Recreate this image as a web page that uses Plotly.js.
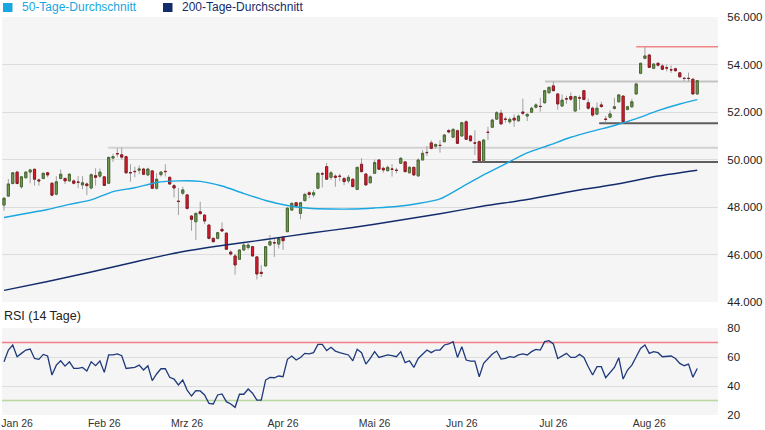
<!DOCTYPE html>
<html><head><meta charset="utf-8">
<script src="https://cdn.plot.ly/plotly-3.0.1.min.js"></script>
<style>html,body{margin:0;padding:0;background:#fff}#chart{width:765px;height:430px}</style>
</head><body><div id="chart"></div>
<script>
// ---- data (trading days, index 0 = first candle) ----
const tickDay  = [3, 23, 42, 64, 85, 105, 126, 148];
const tickText = ['Jan 26','Feb 26','Mrz 26','Apr 26','Mai 26','Jun 26','Jul 26','Aug 26'];

const open = [48080,48460,48990,49470,48850,49230,49470,49590,49140,49200,
49440,49000,48540,49200,49200,49100,49100,49050,48930,48970,
48800,49320,49300,49270,49000,50060,50250,50200,50120,49450,
49500,49550,49600,49350,49520,48790,49360,49500,49250,48900,
48250,48580,48510,47620,47380,47800,47660,47240,46680,46680,
47060,46900,46100,45940,45800,46190,46290,46330,45900,45250,
45520,46400,46500,46440,46730,46960,47870,48180,47730,48270,
48600,48510,48790,49400,49700,49250,49300,49300,49200,49100,
49170,48740,49800,49390,49020,49420,49980,49630,49530,49600,
49550,49840,49900,49440,49670,49310,49980,50300,50700,50560,
50600,50750,51220,50940,51210,50990,51590,50990,50700,50750,
49950,51150,51360,51700,51950,51700,51590,51740,51630,52000,
51830,51990,52200,52240,52390,52810,53100,52760,52250,52560,
52650,52040,52600,52900,52390,52160,51910,52300,51700,51780,
52150,52430,52670,52110,52220,52760,53630,54260,54400,53840,
54050,53940,53860,53780,53820,53650,53420,53420,53380,52760];

const high = [48410,49180,49470,49520,49310,49500,49610,49600,49200,49450,
49480,49050,49300,49580,49250,49420,49160,49300,49300,49030,
49420,49630,49620,49300,50120,50240,50470,50500,50160,49800,
49700,49750,49650,49650,49540,49420,49510,49800,49280,48970,
48800,48850,48550,47660,47770,48220,47700,47280,46720,46950,
47350,46930,46170,46030,46210,46500,46480,46360,45940,45550,
46360,46820,46720,46720,46780,48000,48210,48210,48210,48600,
48670,48710,49450,49480,49850,49520,49380,49400,49270,49350,
49210,49700,50050,49410,49330,50000,50010,49700,49750,49810,
49650,50100,49930,49720,49700,50050,50400,50560,50810,50680,
50820,51070,51290,51310,51260,51590,51650,51030,51230,50800,
50850,51380,51720,52040,52100,51800,51780,51900,51900,52560,
51950,52220,52370,52600,52930,53060,53280,52790,52740,52680,
52820,52680,52700,52930,52560,52230,52400,52430,51830,52070,
52600,52760,52700,52260,52560,53240,54080,54750,54430,54060,
54100,54030,54000,53960,53870,53690,53480,53660,53420,53350];

const low = [47845,48420,48950,48950,48770,49200,49000,48900,48900,49170,
49250,48450,48490,49160,48970,49070,48950,48800,48750,48500,
48750,48900,49230,48880,48960,49900,50100,50000,49400,49070,
49250,49380,49340,49300,48750,48730,49280,49280,48930,48400,
47660,48500,47900,47000,46610,47680,47280,46640,46500,46640,
46960,46200,45950,45150,45780,46170,46200,45900,44950,45050,
45480,46350,45900,46250,46190,46960,47850,47950,47480,48230,
48370,48400,48750,48820,49140,49140,48850,49080,48920,49000,
48830,48710,49450,48890,49000,49400,49560,49450,49500,49280,
49420,49820,49450,49420,49300,49260,49960,50140,50430,50450,
50290,50720,51100,50900,50650,50960,50820,50750,50190,49910,
49910,50820,51330,51680,51460,51550,51500,51380,51590,51860,
51620,51950,52150,52010,52350,52780,52860,52100,52230,52340,
52470,52020,52090,52490,52100,51800,51870,52170,51550,51730,
52100,52390,51520,52070,52170,52720,53590,54220,53850,53800,
53910,53760,53710,53650,53690,53460,53300,53280,52720,52720];

const close = [48370,48970,49440,48990,49270,49470,49560,49170,49100,49420,
49350,48500,49060,49380,49100,49380,49000,49040,49020,48900,
49360,49250,49470,48910,50090,50120,50240,50100,49440,49440,
49490,49600,49380,49600,48790,49170,49470,49490,48970,48800,
48230,48720,47940,47480,47730,47720,47410,46680,46540,46920,
46990,46220,46020,45560,46190,46400,46400,45940,45180,45200,
46330,46540,46490,46680,46580,47950,48150,48040,48180,48530,
48530,48600,49420,49390,49170,49440,49250,49290,49070,49250,
48860,49670,49490,48930,49270,49870,49590,49560,49670,49590,
49540,50050,49490,49670,49350,49980,50260,50290,50470,50630,
50590,51030,51160,51270,50680,51550,50850,50790,50690,49950,
50820,51140,51660,51970,51500,51690,51690,51660,51830,51950,
51900,52160,52300,52230,52900,53040,52900,52340,52500,52550,
52540,52650,52590,52530,52160,51870,52160,52230,51690,51920,
52220,52720,51590,52220,52430,53180,54050,54360,53880,54020,
53970,53800,53850,53770,53740,53480,53410,53410,52760,53320];

const ma50Day = [0,5,10,15,20,25,30,35,40,45,50,55,60,65,70,75,80,85,90,95,100,105,110,115,120,125,130,135,140,145,150,155,159];
const ma50 = [47560,47725,47895,48110,48300,48650,48810,49030,49100,49080,48885,48570,48275,48065,47945,47915,47915,47960,48020,48145,48340,48840,49350,49815,50275,50600,50935,51195,51430,51720,52055,52335,52520];

const ma200Day = [0,10,20,30,40,50,60,70,80,90,100,110,120,130,140,150,159];
const ma200 = [44490,44865,45265,45685,46085,46380,46630,46895,47135,47420,47715,48040,48315,48655,48945,49305,49550];

const rsi = [56.7,64.8,68.3,60.2,62.5,64.8,65.5,59.0,58.4,61.8,
60.7,47.6,54.4,57.4,53.7,56.7,52.1,52.1,52.8,50.3,
56.7,54.0,57.2,49.4,61.4,61.4,62.1,60.9,52.1,52.3,
52.8,54.4,51.0,54.0,43.7,48.3,51.9,51.9,46.0,44.8,
40.7,44.1,37.2,33.1,36.8,36.6,33.8,28.0,27.6,33.8,
34.5,29.2,27.6,25.3,34.3,34.3,37.9,35.0,30.3,30.3,
44.1,45.9,45.7,46.9,46.4,58.4,60.7,57.9,59.7,62.5,
62.1,63.0,68.7,68.7,64.4,66.7,64.1,63.0,62.1,61.4,
57.4,65.3,63.0,55.1,59.0,63.7,59.7,60.7,61.4,61.0,
60.2,63.7,56.1,57.4,52.8,59.0,61.8,64.8,63.0,64.8,
64.8,68.3,69.0,70.6,59.7,67.1,57.9,57.2,57.2,46.4,
55.6,59.0,62.1,64.1,58.6,59.0,60.2,59.7,61.4,62.1,
61.4,63.7,65.3,64.8,70.6,71.3,69.0,59.0,60.7,62.5,
59.7,59.7,61.8,59.7,53.3,47.6,53.3,53.3,45.7,49.2,
52.8,59.5,44.8,51.0,54.4,60.2,65.9,68.3,62.5,63.7,
63.0,60.2,60.7,60.7,59.0,55.6,54.0,55.1,46.0,52.1];

// horizontal price levels (support / resistance) and the day they start
const levelPrice = [50490, 49900, 53280, 51530, 54750];
const levelFrom  = [23.9, 107.4, 124.1, 136.5, 145.0];
const rsiLevels  = [70, 30];
const seriesNames = ['50-Tage-Durchschnitt', '200-Tage-Durchschnitt'];

// ---- styles ----
const levelColor = ['#d2d2d2', '#5e5e5e', '#c4c4c4', '#5e5e5e', '#f08585'];
const levelWidth = [2, 2, 2, 2, 1.5];
const rsiLevelColor = ['#f27e89', '#b8d8a0'];
const c50 = '#1aa6e0', c200 = '#132d6c', cRsi = '#1e3a7c';

const day = open.map((_, i) => i);
const bodyHi = open.map((o, i) => Math.max(o, close[i]));
const bodyLo = open.map((o, i) => Math.min(o, close[i]));

const W = 765, H = 430, M = {l: 2, r: 47, t: 17, b: 15};
const pw = W - M.l - M.r, ph = H - M.t - M.b;
const fx = px => (px - M.l) / pw;
const fy = py => (H - M.b - py) / ph;
const xRange = [-0.46, 163.76];

const traces = [
  {type: 'candlestick', x: day, open: open, high: high, low: low, close: close,
   xaxis: 'x', yaxis: 'y', whiskerwidth: 0, hoverinfo: 'skip', showlegend: false,
   increasing: {line: {color: '#a0a0a0', width: 1}, fillcolor: '#a0a0a0'},
   decreasing: {line: {color: '#a0a0a0', width: 1}, fillcolor: '#a0a0a0'}},
  {type: 'candlestick', x: day, open: open, high: bodyHi, low: bodyLo, close: close,
   xaxis: 'x', yaxis: 'y', whiskerwidth: 0, hoverinfo: 'skip', showlegend: false,
   increasing: {line: {color: '#4a6a34', width: 1}, fillcolor: '#6f9d50'},
   decreasing: {line: {color: '#8a1b24', width: 1}, fillcolor: '#e8192c'}},
  {type: 'scatter', mode: 'lines', x: ma50Day, y: ma50, name: seriesNames[0],
   line: {color: c50, width: 1.4, shape: 'spline', smoothing: 0.6}, xaxis: 'x', yaxis: 'y', hoverinfo: 'skip'},
  {type: 'scatter', mode: 'lines', x: ma200Day, y: ma200, name: seriesNames[1],
   line: {color: c200, width: 1.4, shape: 'spline', smoothing: 0.6}, xaxis: 'x', yaxis: 'y', hoverinfo: 'skip'},
  {type: 'scatter', mode: 'lines', x: day, y: rsi, name: 'RSI',
   line: {color: cRsi, width: 1.3}, xaxis: 'x', yaxis: 'y2', hoverinfo: 'skip'}
];

const shapes = [];
levelPrice.forEach((p, i) => shapes.push({type: 'line', xref: 'x', yref: 'y', layer: 'between',
  x0: levelFrom[i], x1: xRange[1], y0: p, y1: p, line: {color: levelColor[i], width: levelWidth[i]}}));
rsiLevels.forEach((v, i) => shapes.push({type: 'line', xref: 'x', yref: 'y2', layer: 'between',
  x0: xRange[0], x1: xRange[1], y0: v, y1: v, line: {color: rsiLevelColor[i], width: 1.3}}));
// legend squares
shapes.push({type: 'rect', xref: 'paper', yref: 'paper', x0: fx(3), x1: fx(12.5), y0: fy(12), y1: fy(3), fillcolor: c50, line: {width: 0}});
shapes.push({type: 'rect', xref: 'paper', yref: 'paper', x0: fx(163), x1: fx(172.5), y0: fy(12), y1: fy(3), fillcolor: c200, line: {width: 0}});

const font = '"Liberation Sans", Arial, Helvetica, sans-serif';
const annotations = [
  {xref: 'paper', yref: 'paper', x: fx(20), y: fy(7.5), xanchor: 'left', yanchor: 'middle', showarrow: false,
   text: seriesNames[0], font: {family: font, size: 12, color: c50}},
  {xref: 'paper', yref: 'paper', x: fx(180), y: fy(7.5), xanchor: 'left', yanchor: 'middle', showarrow: false,
   text: seriesNames[1], font: {family: font, size: 12, color: c200}},
  {xref: 'paper', yref: 'paper', x: fx(2), y: fy(316), xanchor: 'left', yanchor: 'middle', showarrow: false,
   text: 'RSI (14 Tage)', font: {family: font, size: 12.5, color: '#222'}}
];

const layout = {
  width: W, height: H, margin: {l: M.l, r: M.r, t: M.t, b: M.b, pad: 0},
  paper_bgcolor: '#ffffff', plot_bgcolor: '#f5f5f5',
  separators: ',.', showlegend: false, dragmode: false,
  font: {family: font, size: 11.5, color: '#333'},
  xaxis: {range: xRange, anchor: 'y2', tickmode: 'array', tickvals: tickDay, ticktext: tickText,
          showgrid: false, zeroline: false, showline: false, ticks: '', rangeslider: {visible: false},
          ticklabeloverflow: 'allow', fixedrange: true, tickfont: {size: 10.5, color: '#333'}},
  yaxis: {domain: [fy(302), 1], range: [44000, 56000], dtick: 2000, tickformat: ',.0f', side: 'right',
          anchor: 'x', gridcolor: '#dddddd', gridwidth: 1, zeroline: false, showline: false,
          ticks: 'outside', ticklen: 6, tickcolor: 'rgba(0,0,0,0)', fixedrange: true,
          tickfont: {size: 11.5, color: '#222'}},
  yaxis2: {domain: [0, fy(328)], range: [20, 80], dtick: 20, side: 'right', anchor: 'x',
           gridcolor: '#dddddd', gridwidth: 1, zeroline: false, showline: false,
           ticks: 'outside', ticklen: 6, tickcolor: 'rgba(0,0,0,0)', fixedrange: true,
           tickfont: {size: 11.5, color: '#222'}},
  shapes: shapes, annotations: annotations
};

Plotly.newPlot('chart', traces, layout, {staticPlot: true, displayModeBar: false});
</script>
</body></html>
